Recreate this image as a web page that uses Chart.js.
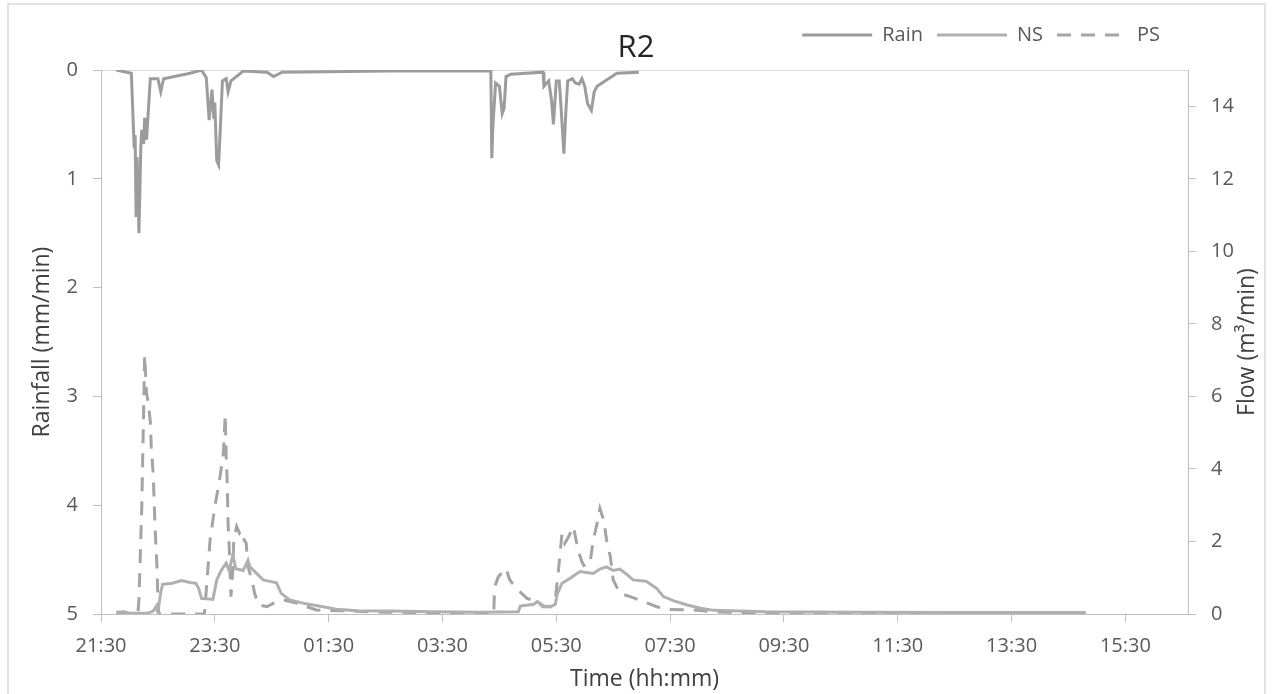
<!DOCTYPE html>
<html>
<head>
<meta charset="utf-8">
<title>R2</title>
<script src="https://cdn.jsdelivr.net/npm/chart.js@4.4.0/dist/chart.umd.min.js"></script>
<style>
  html, body { margin: 0; padding: 0; background: #fff; }
  #wrap { width: 1272px; height: 694px; }
</style>
</head>
<body>
<div id="wrap"><canvas id="mycanvas" width="1272" height="694"></canvas></div>
<script>
// storm R2: rainfall (mm/min) and flow (m3/min) for NS and PS, logged from 21:30
var rainTime = ['21:46','22:02','22:05','22:06','22:07','22:08','22:10','22:12','22:13','22:15','22:16','22:18',
	'22:22','22:30','22:33','22:36','23:04','23:16','23:21','23:24','23:27','23:29','23:30','23:32','23:34','23:36',
	'23:38','23:42','23:44','23:47','00:00','00:25','00:32','00:41','02:35','04:21','04:22','04:23','04:26','04:30',
	'04:33','04:35','04:37','04:42','05:16','05:17','05:22','05:25','05:27','05:30','05:33','05:34','05:38','05:40',
	'05:42','05:47','05:50','05:54','05:57','06:00','06:03','06:07','06:10','06:13','06:27','06:34','06:57'];
var rainVal  = [0, 0.03, 0.72, 0.6, 1.35, 0.8, 1.5, 0.7, 0.55, 0.68, 0.44, 0.64,
	0.08, 0.08, 0.2, 0.08, 0.03, 0, 0.07, 0.46, 0.18, 0.45, 0.3, 0.83, 0.87, 0.5,
	0.1, 0.08, 0.2, 0.1, 0.01, 0.02, 0.06, 0.02, 0.01, 0.01, 0.81, 0.54, 0.12, 0.15,
	0.4, 0.35, 0.06, 0.04, 0.02, 0.15, 0.1, 0.28, 0.5, 0.1, 0.1, 0.2, 0.77, 0.4,
	0.1, 0.08, 0.12, 0.13, 0.08, 0.15, 0.31, 0.37, 0.2, 0.15, 0.07, 0.03, 0.02];

var nsTime = ['21:46','21:54','22:00','22:20','22:25','22:28','22:30','22:33','22:35','22:45','22:55','23:05',
	'23:10','23:13','23:16','23:28','23:32','23:37','23:42','23:45','23:49','23:52','00:00','00:05','00:07','00:14',
	'00:21','00:28','00:35','00:40','00:49','01:06','01:24','01:38','02:00','02:35','03:20','04:10','04:50','04:52',
	'05:06','05:10','05:17','05:24','05:29','05:31','05:36','05:45','05:55','06:09','06:16','06:23','06:30','06:37',
	'06:44','06:51','07:05','07:16','07:23','07:34','07:48','08:02','08:16','09:10','10:50','12:30','14:48'];
var nsVal  = [0.05, 0.06, 0.02, 0.03, 0.08, 0.2, 0.05, 0.6, 0.82, 0.85, 0.92, 0.86,
	0.85, 0.7, 0.43, 0.4, 0.94, 1.21, 1.4, 1.2, 1.63, 1.25, 1.2, 1.48, 1.3, 1.12,
	0.94, 0.9, 0.86, 0.57, 0.39, 0.28, 0.2, 0.13, 0.09, 0.08, 0.06, 0.05, 0.06, 0.22,
	0.27, 0.34, 0.22, 0.2, 0.27, 0.55, 0.85, 0.99, 1.17, 1.12, 1.24, 1.3, 1.2, 1.24,
	1.1, 0.94, 0.9, 0.7, 0.48, 0.36, 0.25, 0.16, 0.1, 0.06, 0.05, 0.04, 0.04];

var psTime = ['21:46','22:08','22:09','22:10','22:13','22:15','22:16','22:18','22:20','22:22','22:23','22:25',
	'22:27','22:29','22:30','22:31','23:19','23:21','23:25','23:30','23:35','23:39','23:41','23:42','23:43','23:44',
	'23:45','23:46','23:47','23:49','23:50','23:53','23:56','23:58','00:01','00:03','00:05','00:09','00:12','00:16',
	'00:25','00:32','00:42','00:56','01:07','01:17','01:42','02:30','03:20','04:15','04:24','04:25','04:29','04:37',
	'04:41','04:48','04:59','05:10','05:16','05:24','05:29','05:32','05:34','05:36','05:39','05:43','05:48','05:53',
	'05:57','06:00','06:06','06:09','06:13','06:16','06:20','06:23','06:27','06:30','06:37','06:48','07:02','07:16',
	'07:26','07:55','08:16','08:51','09:47','12:30','14:48'];
var psVal  = [0, 0, 0.05, 0.4, 2.96, 5.7, 7.14, 6.1, 5.8, 5.3, 4.6, 3.88,
	2.4, 1.3, 0.4, 0, 0, 0.66, 2.04, 2.96, 3.69, 4.43, 5.49, 4.34, 3.69, 2.5,
	1.96, 1.23, 0.48, 1.23, 2.04, 2.41, 2.23, 2.3, 2.04, 1.96, 1.3, 0.94, 0.57, 0.25,
	0.2, 0.3, 0.39, 0.3, 0.2, 0.11, 0.09, 0.05, 0.04, 0.03, 0, 0.75, 1.03, 1.26,
	0.94, 0.71, 0.43, 0.34, 0.2, 0.2, 0.43, 1.12, 1.67, 2.22, 1.95, 2.13, 2.41, 1.76,
	1.44, 1.3, 1.49, 2.04, 2.5, 2.91, 2.59, 2.04, 1.58, 0.94, 0.57, 0.48, 0.34, 0.2,
	0.13, 0.11, 0.06, 0.04, 0.03, 0.02, 0.02];

var timeTicks = ['21:30','23:30','01:30','03:30','05:30','07:30','09:30','11:30','13:30','15:30'];
var timeEnd   = '16:36';
var rainTicks = [0, 1, 2, 3, 4, 5];
var flowTicks = [0, 2, 4, 6, 8, 10, 12, 14];

// minutes after 21:30, rolling over midnight
var START = 21 * 60 + 30;
function toMin(t) {
	var p = t.split(':');
	var m = (+p[0]) * 60 + (+p[1]) - START;
	return m < 0 ? m + 1440 : m;
}
function pts(times, vals) {
	return times.map(function(t, i) { return {x: toMin(t), y: vals[i]}; });
}

var FONT = '"Open Sans", sans-serif';
var AXIS = '#bfbfbf';
Chart.defaults.font.family = FONT;

// white page, outer frame, right axis title (reads bottom-up), legend shift
var chartDecor = {
	id: 'chartDecor',
	afterLayout: function(chart) {
		chart.legend.left -= 14;
		chart.legend.right -= 14;
	},
	beforeDraw: function(chart) {
		var ctx = chart.ctx;
		ctx.save();
		ctx.fillStyle = '#fff';
		ctx.fillRect(0, 0, chart.width, chart.height);
		ctx.strokeStyle = '#d9d9d9';
		ctx.lineWidth = 1.5;
		ctx.strokeRect(8, 4, 1257, 700);
		ctx.restore();
	},
	afterDraw: function(chart) {
		var ctx = chart.ctx, a = chart.chartArea;
		ctx.save();
		ctx.translate(1247, (a.top + a.bottom) / 2);
		ctx.rotate(-Math.PI / 2);
		ctx.font = '23px ' + FONT;
		ctx.fillStyle = '#404040';
		ctx.textAlign = 'center';
		ctx.textBaseline = 'middle';
		ctx.fillText('Flow (m\u00b3/min)', 0, 0);
		ctx.restore();
	}
};

var ctx = document.getElementById('mycanvas');

var mycanvas = new Chart(ctx, {
	type: 'line',
	data: {
		datasets: [
			{
				label: 'Rain',
				data: pts(rainTime, rainVal),
				yAxisID: 'yRain',
				borderColor: '#9c9c9c',
				borderWidth: 3,
				pointRadius: 0,
				tension: 0
			},{
				label: 'NS',
				data: pts(nsTime, nsVal),
				yAxisID: 'yFlow',
				borderColor: '#b0b0b0',
				borderWidth: 3,
				pointRadius: 0,
				tension: 0
			},{
				label: 'PS',
				data: pts(psTime, psVal),
				yAxisID: 'yFlow',
				borderColor: '#a4a4a4',
				borderWidth: 3,
				borderDash: [14, 10],
				pointRadius: 0,
				tension: 0
			}
		]
	},
	options: {
		responsive: false,
		animation: false,
		events: [],
		layout: { padding: {top: 11, left: 0, right: 0, bottom: 0} },
		plugins: {
			title: {
				display: true,
				text: 'R2',
				weight: 500,	// sits under the legend row
				color: '#262626',
				font: {size: 31, weight: 'normal', lineHeight: 1.2},
				padding: {top: -25.5, bottom: 3.3}
			},
			legend: {
				position: 'top',
				align: 'end',
				fullSize: false,
				labels: {
					usePointStyle: true,
					pointStyle: 'line',
					pointStyleWidth: 70,
					boxHeight: 20,
					padding: 14,
					color: '#595959',
					font: {size: 20},
					// point style drops the dataset dash, put it back
					generateLabels: function(chart) {
						var items = Chart.defaults.plugins.legend.labels.generateLabels(chart);
						items.forEach(function(it) {
							var ds = chart.data.datasets[it.datasetIndex];
							it.lineDash = ds.borderDash || [];
							it.strokeStyle = ds.borderColor;
						});
						return items;
					}
				}
			},
			tooltip: { enabled: false }
		},
		scales: {
			x: {
				type: 'linear',
				min: 0,
				max: toMin(timeEnd),
				afterBuildTicks: function(s) {
					s.ticks = timeTicks.map(function(t) { return {value: toMin(t)}; });
				},
				afterFit: function(s) { s.height = 80; },
				ticks: {
					autoSkip: false,
					maxRotation: 0,
					padding: 12,
					color: '#595959',
					font: {size: 20},
					callback: function(v, i) { return timeTicks[i]; }
				},
				grid: { drawOnChartArea: false, tickLength: 8, tickColor: AXIS },
				border: { color: AXIS },
				title: {
					display: true,
					text: 'Time (hh:mm)',
					color: '#404040',
					font: {size: 23},
					padding: {top: 0, bottom: 1}
				}
			},
			yRain: {
				position: 'left',
				reverse: true,
				min: 0,
				max: 5,
				afterBuildTicks: function(s) {
					s.ticks = rainTicks.map(function(v) { return {value: v}; });
				},
				afterFit: function(s) { s.width = 101; },
				ticks: { padding: 15, color: '#595959', font: {size: 20} },
				grid: {
					tickLength: 8,
					tickColor: AXIS,
					color: function(c) {
						return c.tick && c.tick.value === 0 ? '#d9d9d9' : 'rgba(0,0,0,0)';
					}
				},
				border: { color: AXIS },
				title: {
					display: true,
					text: 'Rainfall (mm/min)',
					color: '#404040',
					font: {size: 23},
					padding: {top: 29, bottom: 0}
				}
			},
			yFlow: {
				position: 'right',
				min: 0,
				max: 15,
				afterBuildTicks: function(s) {
					s.ticks = flowTicks.map(function(v) { return {value: v}; });
				},
				afterFit: function(s) { s.width = 84; },
				ticks: { padding: 15, color: '#595959', font: {size: 20} },
				grid: { drawOnChartArea: false, tickLength: 8, tickColor: AXIS },
				border: { color: AXIS }
			}
		}
	},
	plugins: [chartDecor]
});
</script>
</body>
</html>
